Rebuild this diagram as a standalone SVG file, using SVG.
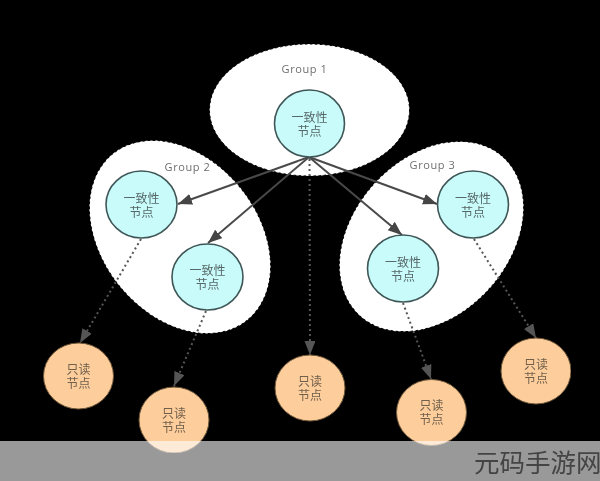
<svg xmlns="http://www.w3.org/2000/svg" width="600" height="481" viewBox="0 0 600 481">
<style>
.grp{fill:#fff;stroke:#000;stroke-width:1;stroke-dasharray:2.500 2.500}
.glabel{font:11px "Open Sans","Noto Sans",sans-serif;fill:#6e6e6e;text-anchor:middle;letter-spacing:.6px}
.cons{fill:#c9fbfb;stroke:#3f5757;stroke-width:1.6}
.read{fill:#fdcd9b;stroke:#6e5638;stroke-width:1}
.t{font:12px "Liberation Sans","Noto Sans CJK SC",sans-serif;text-anchor:middle}
.cons~.t{fill:#566666}
.read~.t{fill:#6f5f4c}
.solid{fill:none;stroke:#4a4a4a;stroke-width:2;marker-end:url(#a)}
.dot{fill:none;stroke:#555;stroke-width:2;stroke-dasharray:2 3;marker-end:url(#b)}
</style>
<defs>
<filter id="soft" x="0" y="0" width="100%" height="100%"><feGaussianBlur stdDeviation="0.45"/></filter>
<marker id="a" markerUnits="userSpaceOnUse" markerWidth="16" markerHeight="12" refX="14" refY="5.500" orient="auto"><path d="M0 0L14 5.500L0 11z" fill="#444"/></marker>
<marker id="b" markerUnits="userSpaceOnUse" markerWidth="16" markerHeight="12" refX="14" refY="5.500" orient="auto"><path d="M0 0L14 5.500L0 11z" fill="#555"/></marker>
</defs>
<rect width="600" height="481" fill="#000"/>
<g filter="url(#soft)">
<g id="group-1"><ellipse class="grp" cx="309.500" cy="110" rx="100" ry="66"/><text class="glabel" x="304.500" y="73">Group 1</text></g>
<g id="group-2"><ellipse class="grp" cx="180" cy="237" rx="107" ry="78" transform="rotate(51 180 237)"/><text class="glabel" x="187.500" y="171">Group 2</text></g>
<g id="group-3"><ellipse class="grp" cx="431.500" cy="236.500" rx="107" ry="78" transform="rotate(-48 431.500 236.500)"/><text class="glabel" x="432.500" y="169">Group 3</text></g>
<g id="connectors">
<path class="solid" d="M309 157L178 204"/>
<path class="solid" d="M309 157L208 243"/>
<path class="solid" d="M309 157L437 204"/>
<path class="solid" d="M309 157L402 235"/>
<path class="dot" d="M309.500 159L310 355"/>
<path class="dot" d="M141 239L80 343"/>
<path class="dot" d="M206 311L174 386"/>
<path class="dot" d="M403 303L431 379"/>
<path class="dot" d="M474 239L536 338"/>
</g>
<g id="c1"><ellipse class="cons" cx="309.500" cy="123.500" rx="35" ry="33.500"/><text class="t" x="309.500" y="121.500">一致性</text><text class="t" x="309.500" y="135.500">节点</text></g>
<g id="c2"><ellipse class="cons" cx="141.500" cy="204.500" rx="35.500" ry="33.500"/><text class="t" x="141.500" y="202.500">一致性</text><text class="t" x="141.500" y="216.500">节点</text></g>
<g id="c3"><ellipse class="cons" cx="207.500" cy="277" rx="35.500" ry="33"/><text class="t" x="207.500" y="275">一致性</text><text class="t" x="207.500" y="289">节点</text></g>
<g id="c4"><ellipse class="cons" cx="473" cy="204.500" rx="35.500" ry="33.500"/><text class="t" x="473" y="202.500">一致性</text><text class="t" x="473" y="216.500">节点</text></g>
<g id="c5"><ellipse class="cons" cx="403" cy="268.500" rx="35.500" ry="33.500"/><text class="t" x="403" y="266.500">一致性</text><text class="t" x="403" y="280.500">节点</text></g>
<g id="r1"><ellipse class="read" cx="78.500" cy="376" rx="35" ry="33"/><text class="t" x="78.500" y="373.500">只读</text><text class="t" x="78.500" y="387.500">节点</text></g>
<g id="r2"><ellipse class="read" cx="174" cy="420" rx="35" ry="33"/><text class="t" x="174" y="417.500">只读</text><text class="t" x="174" y="431.500">节点</text></g>
<g id="r3"><ellipse class="read" cx="310" cy="388" rx="35" ry="33"/><text class="t" x="310" y="385.500">只读</text><text class="t" x="310" y="399.500">节点</text></g>
<g id="r4"><ellipse class="read" cx="431.500" cy="412.500" rx="35" ry="33"/><text class="t" x="431.500" y="410">只读</text><text class="t" x="431.500" y="424">节点</text></g>
<g id="r5"><ellipse class="read" cx="536" cy="371" rx="35" ry="33"/><text class="t" x="536" y="368.500">只读</text><text class="t" x="536" y="382.500">节点</text></g>
</g>
<rect id="band" x="0" y="441" width="600" height="40" fill="#fff" fill-opacity=".6"/>
<text id="watermark" x="474" y="472" font-family="'Noto Sans CJK SC',sans-serif" font-size="25.500" fill="#444">元码手游网</text>
</svg>
